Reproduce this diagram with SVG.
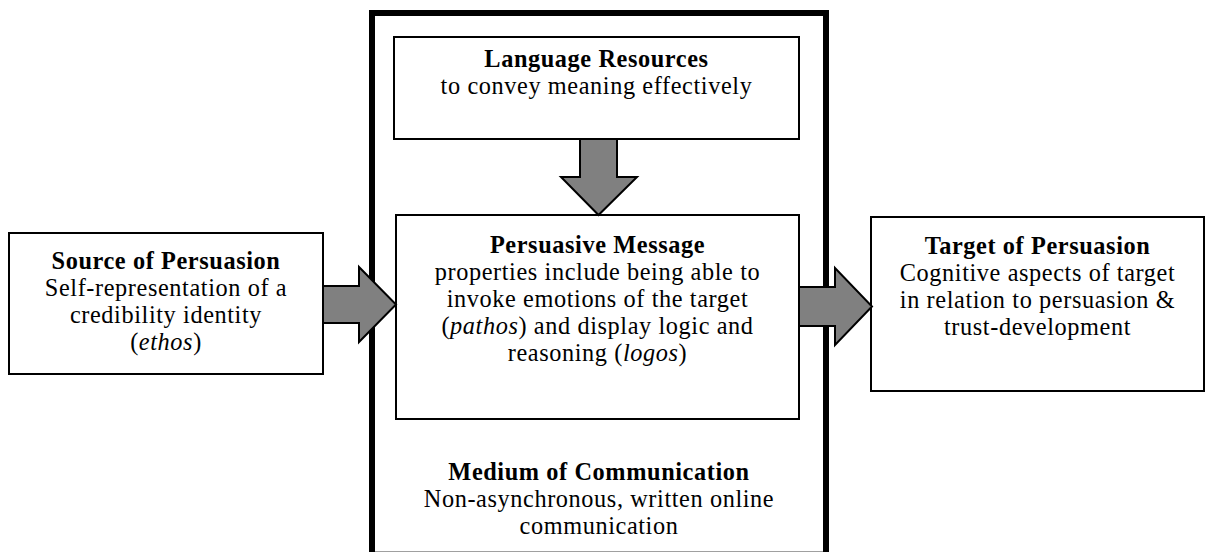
<svg xmlns="http://www.w3.org/2000/svg" width="1206" height="552" viewBox="0 0 1206 552">
  <style>
    .box { fill: #ffffff; stroke: #000000; stroke-width: 2; }
    .frame { fill: none; stroke: #000000; stroke-width: 6; }
    .arrow { fill: #808080; stroke: #000000; stroke-width: 2; stroke-linejoin: miter; }
    text { font-family: "Liberation Serif", "Times New Roman", serif; font-size: 24.3px; letter-spacing: 0.6px; fill: #000000; text-anchor: middle; }
    .title { font-weight: bold; }
    .it { font-style: italic; }
  </style>

  <rect width="1206" height="552" fill="#ffffff"/>

  <!-- Medium of communication frame -->
  <g id="medium">
    <rect class="frame" x="372" y="13" width="454" height="560"/>
    <line x1="375" y1="551.5" x2="823" y2="551.5" stroke="#a0a0a0" stroke-width="1"/>
    <text class="title" x="599" y="480">Medium of Communication</text>
    <text x="599" y="507">Non-asynchronous, written online</text>
    <text x="599" y="534">communication</text>
  </g>

  <g id="language">
    <rect class="box" x="394" y="37" width="405" height="102"/>
    <text class="title" x="596.5" y="67">Language Resources</text>
    <text x="596.5" y="94">to convey meaning effectively</text>
  </g>

  <g id="message">
    <rect class="box" x="396" y="215" width="403" height="204"/>
    <text class="title" x="597.5" y="253">Persuasive Message</text>
    <text x="597.5" y="280">properties include being able to</text>
    <text x="597.5" y="307">invoke emotions of the target</text>
    <text x="597.5" y="334">(<tspan class="it">pathos</tspan>) and display logic and</text>
    <text x="597.5" y="361">reasoning (<tspan class="it">logos</tspan>)</text>
  </g>

  <g id="source">
    <rect class="box" x="9" y="233" width="314" height="141"/>
    <text class="title" x="166" y="269">Source of Persuasion</text>
    <text x="166" y="296">Self-representation of a</text>
    <text x="166" y="323">credibility identity</text>
    <text x="166" y="350">(<tspan class="it">ethos</tspan>)</text>
  </g>

  <g id="target">
    <rect class="box" x="871" y="217" width="333" height="174"/>
    <text class="title" x="1037.5" y="254">Target of Persuasion</text>
    <text x="1037.5" y="281">Cognitive aspects of target</text>
    <text x="1037.5" y="308">in relation to persuasion &amp;</text>
    <text x="1037.5" y="335">trust-development</text>
  </g>

  <!-- block arrows -->
  <g id="connectors">
    <polygon class="arrow" points="580,139 617,139 617,177 637,177 598.5,215 561,177 580,177"/>
    <polygon class="arrow" points="323,286 359,286 359,267 396,304.5 359,342 359,323 323,323"/>
    <polygon class="arrow" points="799,287 835,287 835,268 872,306.5 835,345 835,326 799,326"/>
  </g>
</svg>
